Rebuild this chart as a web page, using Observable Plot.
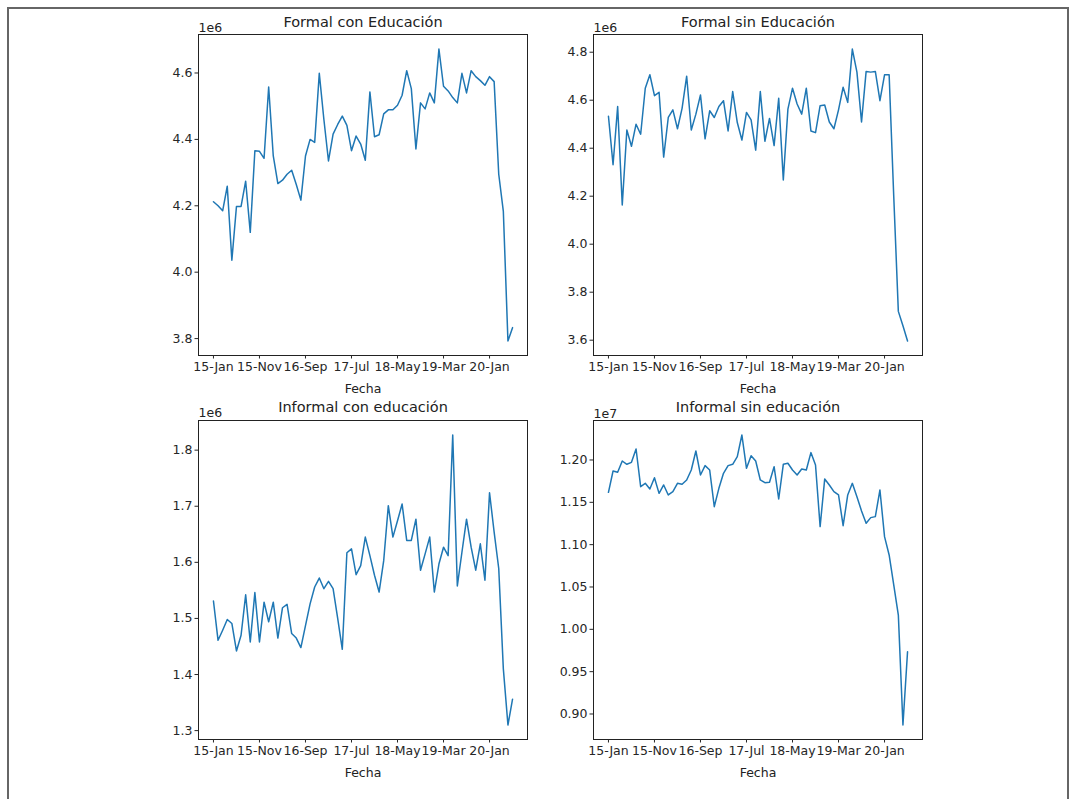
<!DOCTYPE html>
<html>
<head>
<meta charset="utf-8">
<script src="https://cdn.jsdelivr.net/npm/d3@7"></script>
<script src="https://cdn.jsdelivr.net/npm/@observablehq/plot@0.6"></script>
<style>
  html, body { margin: 0; padding: 0; background: #fff; }
  #page { position: relative; width: 1069px; height: 799px; overflow: hidden; font-family: "DejaVu Sans", sans-serif; }
  #border { position: absolute; left: 7px; top: 7px; width: 1058px; height: 800px; border: 2px solid #666; border-bottom: none; }
  .panel { position: absolute; }
</style>
</head>
<body>
<div id="page"><div id="border"></div></div>
<script>
// Categories: monthly dates Jan 2015 .. Jun 2020 shown as "yy-Mon"
const fecha = d3.utcMonths(new Date(Date.UTC(2015, 0, 1)), new Date(Date.UTC(2020, 6, 1))).map(d3.utcFormat("%y-%b"));
const xTickIndex = [0, 10, 20, 30, 40, 50, 60];

// Series values (in units of the axis multiplier)
const formalConEdu = [4.212,4.200,4.185,4.259,4.036,4.198,4.198,4.274,4.120,4.366,
  4.364,4.343,4.558,4.350,4.267,4.277,4.295,4.307,4.264,4.217,
  4.350,4.400,4.391,4.599,4.460,4.335,4.416,4.445,4.470,4.442,
  4.366,4.410,4.386,4.337,4.543,4.408,4.414,4.477,4.489,4.489,
  4.503,4.533,4.607,4.553,4.371,4.510,4.492,4.540,4.510,4.672,
  4.560,4.546,4.526,4.510,4.599,4.540,4.607,4.589,4.577,4.563,
  4.589,4.574,4.295,4.183,3.793,3.833];
const formalSinEdu = [4.533,4.331,4.574,4.163,4.476,4.408,4.500,4.458,4.650,4.706,
  4.619,4.633,4.363,4.528,4.560,4.481,4.566,4.700,4.476,4.542,
  4.622,4.439,4.556,4.528,4.574,4.598,4.472,4.636,4.507,4.434,
  4.549,4.518,4.392,4.636,4.429,4.524,4.411,4.608,4.268,4.563,
  4.650,4.584,4.542,4.650,4.472,4.465,4.577,4.580,4.509,4.481,
  4.560,4.654,4.591,4.813,4.717,4.509,4.720,4.717,4.720,4.598,
  4.706,4.706,4.200,3.720,3.660,3.597];
const informalConEdu = [1.531,1.461,1.479,1.498,1.491,1.442,1.470,1.542,1.458,1.546,
  1.458,1.529,1.494,1.529,1.465,1.519,1.525,1.473,1.465,1.448,
  1.487,1.526,1.556,1.572,1.553,1.566,1.553,1.500,1.445,1.617,
  1.624,1.578,1.594,1.645,1.612,1.577,1.547,1.603,1.701,1.645,
  1.674,1.704,1.639,1.639,1.677,1.586,1.615,1.645,1.547,1.597,
  1.627,1.612,1.827,1.558,1.618,1.677,1.627,1.586,1.633,1.568,
  1.724,1.654,1.589,1.410,1.310,1.356];
const informalSinEdu = [1.1618,1.1870,1.1854,1.1988,1.1949,1.1972,1.2130,1.1685,1.1724,1.1657,
  1.1791,1.1606,1.1705,1.1587,1.1626,1.1724,1.1713,1.1764,1.1882,1.2106,
  1.1823,1.1933,1.1882,1.1449,1.1665,1.1843,1.1933,1.1949,1.2039,1.2295,
  1.1902,1.2051,1.1988,1.1764,1.1732,1.1736,1.1921,1.1539,1.1949,1.1961,
  1.1882,1.1823,1.1894,1.1882,1.2087,1.1941,1.1213,1.1776,1.1705,1.1626,
  1.1587,1.1224,1.1587,1.1724,1.1567,1.1398,1.1252,1.1319,1.1331,1.1646,
  1.1094,1.0878,1.0524,1.0169,0.8870,0.9736];

// Titles, multipliers and y tick values
const titles = ["Formal con Educación", "Formal sin Educación", "Informal con educación", "Informal sin educación"];
const multipliers = ["1e6", "1e6", "1e6", "1e7"];
const yTicks1 = [3.8, 4.0, 4.2, 4.4, 4.6];
const yTicks2 = [3.6, 3.8, 4.0, 4.2, 4.4, 4.6, 4.8];
const yTicks3 = [1.3, 1.4, 1.5, 1.6, 1.7, 1.8];
const yTicks4 = [0.90, 0.95, 1.00, 1.05, 1.10, 1.15, 1.20];
const xLabel = "Fecha";

function panel({values, title, mult, yTicks, digits, left, top, h, titleDy, multDy}) {
  const ext = d3.extent(values);
  const pad = (ext[1] - ext[0]) * 0.05;
  const n = values.length;
  const data = values.map((v, i) => ({i, v}));
  const chart = Plot.plot({
    width: 390, height: h,
    marginLeft: 48, marginRight: 13, marginTop: 25, marginBottom: 43,
    style: {fontFamily: "DejaVu Sans, sans-serif", fontSize: "12.5px", color: "#262626", background: "transparent", overflow: "visible"},
    x: {domain: [-(n - 1) * 0.05, (n - 1) * 1.05]},
    y: {domain: [ext[0] - pad, ext[1] + pad]},
    marks: [
      Plot.lineY(data, {x: "i", y: "v", stroke: "#1f77b4", strokeWidth: 1.5}),
      Plot.frame({stroke: "#222", strokeWidth: 1}),
      Plot.axisX({ticks: xTickIndex, tickFormat: i => fecha[i], tickSize: 3.5, tickPadding: 3, label: null}),
      Plot.axisY({ticks: yTicks, tickFormat: d => d.toFixed(digits), tickSize: 3.5, tickPadding: 2.5, label: null}),
      Plot.text([title], {text: d => d, frameAnchor: "top", dy: titleDy, lineAnchor: "middle", fontSize: 14.5, fill: "#222"}),
      Plot.text([mult], {text: d => d, frameAnchor: "top-left", textAnchor: "start", dy: multDy, lineAnchor: "middle", fill: "#222"}),
      Plot.text([xLabel], {text: d => d, frameAnchor: "bottom", dy: 33, lineAnchor: "middle", fill: "#222"})
    ]
  });
  const wrap = document.createElement("div");
  wrap.className = "panel";
  wrap.style.left = left + "px";
  wrap.style.top = top + "px";
  wrap.appendChild(chart);
  document.getElementById("page").appendChild(wrap);
}

panel({values: formalConEdu, title: titles[0], mult: multipliers[0], yTicks: yTicks1, digits: 1, left: 150, top: 9, h: 389, titleDy: -12, multDy: -6.5});
panel({values: formalSinEdu, title: titles[1], mult: multipliers[1], yTicks: yTicks2, digits: 1, left: 545, top: 9, h: 389, titleDy: -12, multDy: -6.5});
panel({values: informalConEdu, title: titles[2], mult: multipliers[2], yTicks: yTicks3, digits: 1, left: 150, top: 395, h: 387, titleDy: -13, multDy: -8});
panel({values: informalSinEdu, title: titles[3], mult: multipliers[3], yTicks: yTicks4, digits: 2, left: 545, top: 395, h: 387, titleDy: -13, multDy: -7});
</script>
</body>
</html>
